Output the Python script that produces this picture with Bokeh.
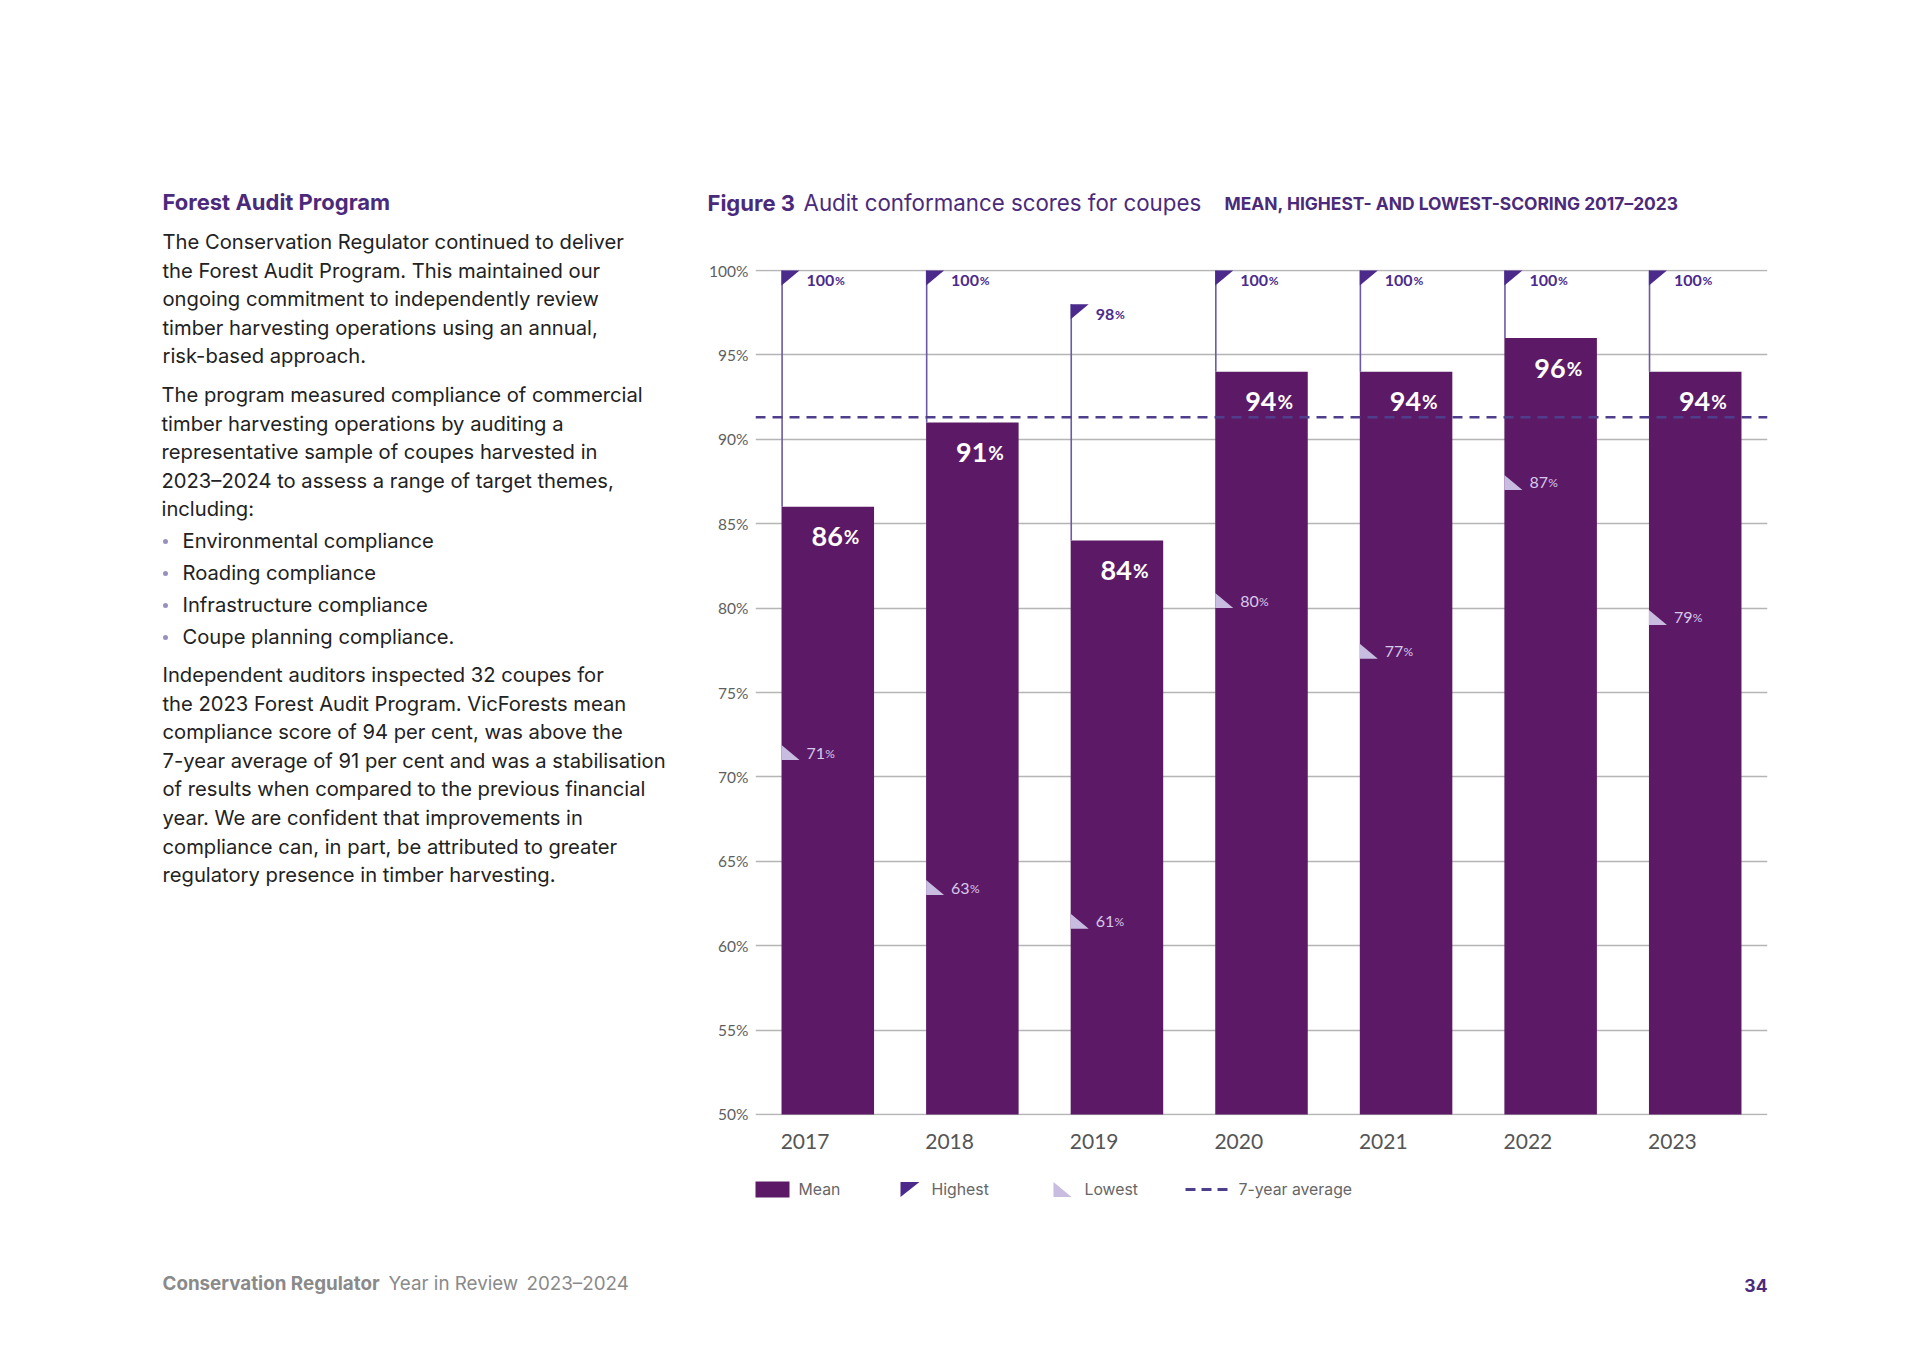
from bokeh.plotting import figure
from bokeh.layouts import row, column
from bokeh.models import (ColumnDataSource, Range1d, FixedTicker, PrintfTickFormatter,
                          CustomJSTickFormatter, Span)
from bokeh.core.properties import value
from bokeh.embed import file_html
from bokeh.resources import INLINE

# ---------------- data ----------------
years = ["2017", "2018", "2019", "2020", "2021", "2022", "2023"]
mean_scores = [86, 91, 84, 94, 94, 96, 94]
highest_scores = [100, 100, 98, 100, 100, 100, 100]
lowest_scores = [71, 63, 61, 80, 77, 87, 79]
seven_year_average = 91.3
y_ticks = [50, 55, 60, 65, 70, 75, 80, 85, 90, 95, 100]

heading = "Forest Audit Program"
para1 = ["The Conservation Regulator continued to deliver",
         "the Forest Audit Program. This maintained our",
         "ongoing commitment to independently review",
         "timber harvesting operations using an annual,",
         "risk-based approach."]
para2 = ["The program measured compliance of commercial",
         "timber harvesting operations by auditing a",
         "representative sample of coupes harvested in",
         "2023\u20132024 to assess a range of target themes,",
         "including:"]
bullets = ["Environmental compliance", "Roading compliance",
           "Infrastructure compliance", "Coupe planning compliance."]
para3 = ["Independent auditors inspected 32 coupes for",
         "the 2023 Forest Audit Program. VicForests mean",
         "compliance score of 94 per cent, was above the",
         "7-year average of 91 per cent and was a stabilisation",
         "of results when compared to the previous financial",
         "year. We are confident that improvements in",
         "compliance can, in part, be attributed to greater",
         "regulatory presence in timber harvesting."]
legend_labels = ["Mean", "Highest", "Lowest", "7-year average"]

# ---------------- styling / layout ----------------
FONT = "Lato"        # chart numbers
PROSE = "Inter"      # page text
W, H = 1913, 1348
SPLIT_X = 695            # left text column | right chart column
TITLE_H = 240
BOTTOM_Y = 1165
FRAME_L, FRAME_R, FRAME_T, FRAME_B = 755, 1767, 269, 1115
Y0, Y1 = 49.94, 100.06

PURPLE_BAR = "#5c1a66"
PURPLE_HI = "#4b2a8c"
PURPLE_LINE = "#6b5aa6"
DASH_C = "#4e3e8c"
LAVENDER = "#c9bce1"
LAV_TEXT = "#d6c9ec"
TITLE_C = "#4b2a7b"
TXT = "#222222"
GREY = "#666666"


def canvas(width, height, x0, x1, y0, y1):
    f = figure(width=width, height=height, x_range=Range1d(x0, x1),
               y_range=Range1d(y1, y0), output_backend="svg", toolbar_location=None,
               x_axis_type=None, y_axis_type=None, min_border=0, frame_align=False)
    f.xgrid.visible = False
    f.ygrid.visible = False
    f.outline_line_color = None
    f.background_fill_color = "white"
    f.border_fill_color = "white"
    return f


def put(f, x, y, text, size, color, style="normal", align="left", font=PROSE):
    f.text(x=[x], y=[y], text=[text], text_font=value(font), text_font_size=size,
           text_color=color, text_font_style=style, text_align=align,
           text_baseline="middle")


# ---------------- left text column ----------------
left = canvas(SPLIT_X, H, 0, SPLIT_X, 0, H)
put(left, 162, 201, heading, "22px", TITLE_C, "bold")
LS = 28.6
BODY = "20.2px"
for i, t in enumerate(para1):
    put(left, 162, 241 + i * LS, t, BODY, TXT)
for i, t in enumerate(para2):
    put(left, 161, 394 + i * LS, t, BODY, TXT)
for i, t in enumerate(bullets):
    yb = 540 + i * 32
    left.scatter([165], [yb + 1], size=5, color="#9a90c0", line_color=None)
    put(left, 182, yb, t, BODY, TXT)
for i, t in enumerate(para3):
    put(left, 162, 674 + i * LS, t, BODY, TXT)
put(left, 162, 1283, "Conservation Regulator", "18.8px", "#8a8a8a", "bold")
put(left, 388, 1283, "Year in Review", "18.8px", "#8a8a8a")
put(left, 526, 1283, "2023\u20132024", "18.8px", "#8a8a8a")

RW = W - SPLIT_X

# ---------------- title band ----------------
top = canvas(RW, TITLE_H, SPLIT_X, W, 0, TITLE_H)
put(top, 707, 202, "Figure 3", "22px", TITLE_C, "bold")
put(top, 803, 202, "Audit conformance scores for coupes", "22.3px", TITLE_C)
put(top, 1224, 203, "MEAN, HIGHEST- AND LOWEST-SCORING 2017\u20132023", "17.4px", TITLE_C, "bold")

# ---------------- chart ----------------
CH = BOTTOM_Y - TITLE_H
p = figure(width=RW, height=CH, x_range=Range1d(0, len(years)), y_range=Range1d(Y0, Y1),
           output_backend="svg", toolbar_location=None, frame_align=False,
           min_border_left=FRAME_L - SPLIT_X, min_border_right=W - FRAME_R,
           min_border_top=FRAME_T - TITLE_H, min_border_bottom=BOTTOM_Y - FRAME_B)
p.outline_line_color = None
p.background_fill_color = "white"
p.border_fill_color = "white"

FW = FRAME_R - FRAME_L
px_per_cat = FW / len(years)
px_per_pct = (FRAME_B - FRAME_T) / (Y1 - Y0)
BAR_W = 0.64
tri_dx = 18 / px_per_cat
tri_dy = 15 / px_per_pct

centers = [i + 0.5 for i in range(len(years))]
lefts = [c - BAR_W / 2 for c in centers]
label_ticks = [l + 23.5 / px_per_cat for l in lefts]   # year labels start at bar's left edge

p.xgrid.grid_line_color = None
p.ygrid.ticker = FixedTicker(ticks=y_ticks)
p.ygrid.grid_line_color = "#b5b5b5"
p.ygrid.grid_line_width = 1.5

p.yaxis.ticker = FixedTicker(ticks=y_ticks)
p.yaxis.formatter = PrintfTickFormatter(format="%d%%")
p.yaxis.axis_line_color = None
p.yaxis.major_tick_line_color = None
p.yaxis.minor_tick_line_color = None
p.yaxis.major_label_text_font = FONT
p.yaxis.major_label_text_font_size = "15.5px"
p.yaxis.major_label_text_color = "#5e5e5e"
p.yaxis.major_label_standoff = 1

p.xaxis.ticker = FixedTicker(ticks=label_ticks)
p.xaxis.formatter = CustomJSTickFormatter(args=dict(years=years),
                                          code="return years[Math.floor(tick)];")
p.xaxis.axis_line_color = None
p.xaxis.major_tick_line_color = None
p.xaxis.minor_tick_line_color = None
p.xaxis.major_label_text_font = FONT
p.xaxis.major_label_text_font_size = "21px"
p.xaxis.major_label_text_color = "#555555"
p.xaxis.major_label_standoff = 12

src = ColumnDataSource(dict(
    x=centers, year=years, mean=mean_scores, high=highest_scores, low=lowest_scores,
    left=[l + 0.004 for l in lefts], left_edge=lefts,
    mean_txt=[str(v) for v in mean_scores],
    high_txt=[str(v) for v in highest_scores],
    low_txt=[str(v) for v in lowest_scores],
    high_pct_off=[26 + 9.2 * len(str(v)) for v in highest_scores],
    low_pct_off=[26 + 8.9 * len(str(v)) for v in lowest_scores],
))

p.vbar(x="x", top="mean", bottom=50, width=BAR_W, source=src,
       fill_color=PURPLE_BAR, line_color=None)
p.segment(x0="left", y0="mean", x1="left", y1="high", source=src,
          line_color=PURPLE_LINE, line_width=1.6)

hi_xs = [[l, l + tri_dx, l] for l in lefts]
hi_ys = [[h, h, h - tri_dy] for h in highest_scores]
p.patches(hi_xs, hi_ys, fill_color=PURPLE_HI, line_color=None)

lo_xs = [[l, l + tri_dx, l] for l in lefts]
lo_ys = [[v, v, v + tri_dy] for v in lowest_scores]
p.patches(lo_xs, lo_ys, fill_color=LAVENDER, line_color=None)

p.add_layout(Span(location=seven_year_average, dimension="width",
                  line_color=DASH_C, line_width=2.5, line_dash="10 7"))

# mean labels
p.text(x="x", y="mean", text="mean_txt", source=src, text_align="right",
       text_baseline="alphabetic", x_offset=15, y_offset=30,
       text_font=value(FONT), text_font_style="bold", text_font_size="27px",
       text_color="white")
p.text(x="x", y="mean", text=value("%"), source=src, text_align="left",
       text_baseline="alphabetic", x_offset=16, y_offset=30,
       text_font=value(FONT), text_font_style="bold", text_font_size="19px",
       text_color="white")
# highest labels
p.text(x="left_edge", y="high", text="high_txt", source=src, text_align="left",
       text_baseline="alphabetic", x_offset=25, y_offset=10,
       text_font=value(FONT), text_font_style="bold", text_font_size="16px",
       text_color=PURPLE_HI)
p.text(x="left_edge", y="high", text=value("%"), source=src, text_align="left",
       text_baseline="alphabetic", x_offset="high_pct_off", y_offset=10,
       text_font=value(FONT), text_font_style="bold", text_font_size="12px",
       text_color=PURPLE_HI)
# lowest labels
p.text(x="left_edge", y="low", text="low_txt", source=src, text_align="left",
       text_baseline="alphabetic", x_offset=25, y_offset=-7,
       text_font=value(FONT), text_font_size="16px", text_color=LAV_TEXT)
p.text(x="left_edge", y="low", text=value("%"), source=src, text_align="left",
       text_baseline="alphabetic", x_offset="low_pct_off", y_offset=-7,
       text_font=value(FONT), text_font_size="12px", text_color=LAV_TEXT)

# ---------------- legend + page number ----------------
bot = canvas(RW, H - BOTTOM_Y, SPLIT_X, W, BOTTOM_Y, H)
LY = 1189
bot.quad(left=[755], right=[789], top=[LY - 8], bottom=[LY + 8],
         fill_color=PURPLE_BAR, line_color=None)
put(bot, 798, LY, legend_labels[0], "15.8px", GREY)
bot.patch([900, 919, 900], [LY - 7.5, LY - 7.5, LY + 7.5], fill_color=PURPLE_HI, line_color=None)
put(bot, 931, LY, legend_labels[1], "15.8px", GREY)
bot.patch([1053, 1071, 1053], [LY + 7.5, LY + 7.5, LY - 7.5], fill_color=LAVENDER, line_color=None)
put(bot, 1084, LY, legend_labels[2], "15.8px", GREY)
bot.quad(left=[1185, 1201, 1217], right=[1195, 1211, 1227], top=[LY - 1.5] * 3,
         bottom=[LY + 1.5] * 3, fill_color=DASH_C, line_color=None)
put(bot, 1238, LY, legend_labels[3], "15.8px", GREY)
put(bot, 1767, 1285, "34", "17.5px", TITLE_C, "bold", align="right")

layout = row(left, column(top, p, bot))
open("out.html", "w").write(file_html(layout, INLINE))
